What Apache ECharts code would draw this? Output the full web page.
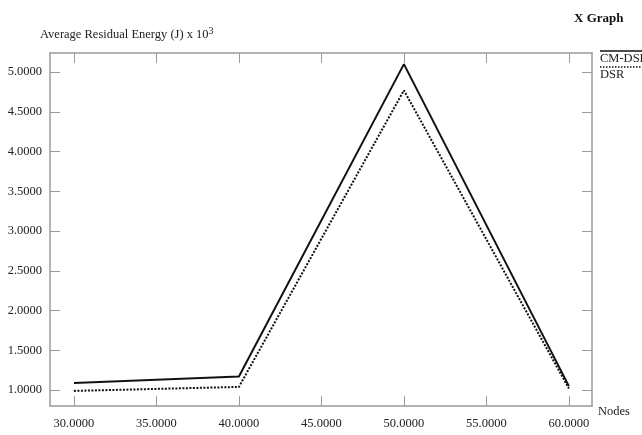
<!DOCTYPE html>
<html>
<head>
<meta charset="utf-8">
<script src="https://cdn.jsdelivr.net/npm/echarts@6/dist/echarts.min.js"></script>
<style>
  html, body { margin: 0; padding: 0; background: #fff; }
  #chart { width: 642px; height: 435px; }
</style>
</head>
<body>
<div id="chart"></div>
<script>
const chartDom = document.querySelector('#chart')
let chart = echarts.init(chartDom)

// data
const nodes = [30, 40, 50, 60]
const cmDsr = [1.09, 1.17, 5.10, 1.05]
const dsr = [0.99, 1.04, 4.77, 1.02]
const xTicks = [30, 35, 40, 45, 50, 55, 60]
const yTicks = [1.0, 1.5, 2.0, 2.5, 3.0, 3.5, 4.0, 4.5, 5.0]

const font = 'Liberation Serif'
const axisGray = '#9a9a9a'

function pairs(xs, ys) {
    return xs.map((x, i) => [x, ys[i]])
}

function xAxisCfg(pos, labels) {
    return {
        type: 'value',
        position: pos,
        min: 28.55,
        max: 61.4,
        axisLine: { show: true, onZero: false, lineStyle: { color: axisGray, width: 1.5 } },
        axisTick: { show: true, inside: true, length: 10, customValues: xTicks, lineStyle: { color: axisGray, width: 1 } },
        axisLabel: {
            show: labels, customValues: xTicks, margin: 11,
            fontFamily: font, fontSize: 12.5, color: '#222',
            formatter: v => v.toFixed(4)
        },
        splitLine: { show: false }
    }
}

function yAxisCfg(pos, labels) {
    return {
        type: 'value',
        position: pos,
        min: 0.8,
        max: 5.24,
        axisLine: { show: true, onZero: false, lineStyle: { color: axisGray, width: 1.5 } },
        axisTick: { show: true, inside: true, length: 10, customValues: yTicks, lineStyle: { color: axisGray, width: 1 } },
        axisLabel: {
            show: labels, customValues: yTicks, margin: 8,
            fontFamily: font, fontSize: 12.5, color: '#222',
            formatter: v => v.toFixed(4)
        },
        splitLine: { show: false }
    }
}

let option = {
    backgroundColor: '#fff',
    animation: false,
    grid: { left: 50, right: 50, top: 53, bottom: 29 },
    xAxis: [xAxisCfg('bottom', true), xAxisCfg('top', false)],
    yAxis: [yAxisCfg('left', true), yAxisCfg('right', false)],
    graphic: [
        {
            type: 'text', left: 574, top: 12,
            style: { text: 'X Graph', fontFamily: font, fontSize: 13, fontWeight: 'bold', fill: '#111' }
        },
        {
            type: 'text', left: 40, top: 26,
            style: {
                text: 'Average Residual Energy (J) x 10{sup|3}',
                fontFamily: font, fontSize: 12.5, fill: '#222',
                rich: { sup: { fontFamily: font, fontSize: 10, verticalAlign: 'top', padding: [0, 0, 7, 0] } }
            }
        },
        {
            type: 'text', left: 598, top: 405,
            style: { text: 'Nodes', fontFamily: font, fontSize: 12.5, fill: '#222' }
        },
        {
            type: 'line', shape: { x1: 600, y1: 51, x2: 642, y2: 51 },
            style: { stroke: '#111', lineWidth: 1.5 }
        },
        {
            type: 'text', left: 600, top: 52,
            style: { text: 'CM-DSR', fontFamily: font, fontSize: 12.5, fill: '#222' }
        },
        {
            type: 'line', shape: { x1: 600, y1: 67, x2: 642, y2: 67 },
            style: { stroke: '#111', lineWidth: 1.5, lineDash: [1.5, 1.5] }
        },
        {
            type: 'text', left: 600, top: 68,
            style: { text: 'DSR', fontFamily: font, fontSize: 12.5, fill: '#222' }
        }
    ],
    series: [
        {
            name: 'CM-DSR',
            type: 'line',
            data: pairs(nodes, cmDsr),
            symbol: 'none',
            lineStyle: { color: '#111', width: 2 }
        },
        {
            name: 'DSR',
            type: 'line',
            data: pairs(nodes, dsr),
            symbol: 'none',
            lineStyle: { color: '#111', width: 2, type: [2, 1.5] }
        }
    ]
}

chart.setOption(option)
</script>
</body>
</html>
